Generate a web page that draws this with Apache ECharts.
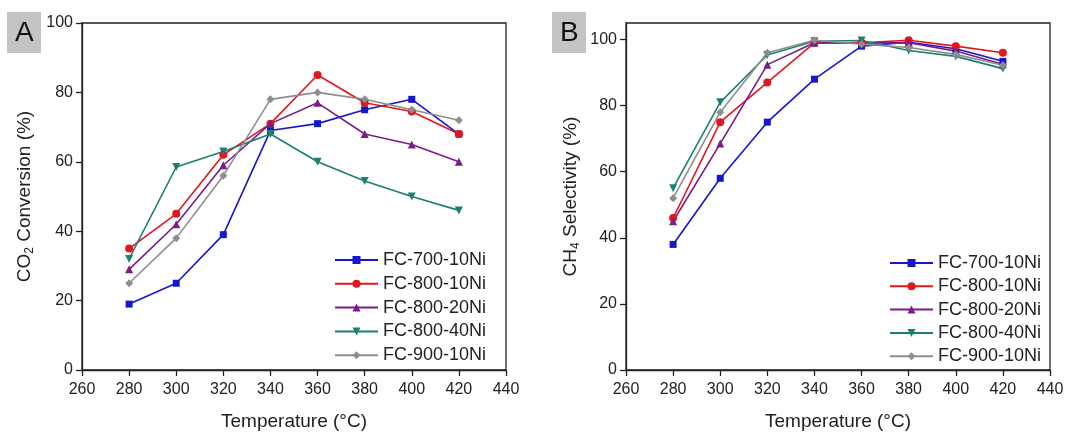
<!DOCTYPE html>
<html><head><meta charset="utf-8">
<script src="https://cdn.jsdelivr.net/npm/echarts@6/dist/echarts.min.js"></script>
<style>html,body{margin:0;padding:0;background:#fff}#c{width:1083px;height:432px}</style>
</head><body><div id="c"></div>
<script>
const temps = [280, 300, 320, 340, 360, 380, 400, 420];
const seriesNames = ['FC-700-10Ni', 'FC-800-10Ni', 'FC-800-20Ni', 'FC-800-40Ni', 'FC-900-10Ni'];
// Panel A: CO2 conversion (%)
const convA_700_10 = [19, 25, 39, 69, 71, 75, 78, 68];
const convA_800_10 = [35, 45, 62, 71, 85, 77, 74.5, 68];
const convA_800_20 = [29, 42, 59, 71, 77, 68, 65, 60];
const convA_800_40 = [32, 58.5, 63, 68, 60, 54.5, 50, 46];
const convA_900_10 = [25, 38, 56, 78, 80, 78, 75, 72];
// Panel B: CH4 selectivity (%)
const selB_700_10 = [38, 58, 75, 88, 98, 99.2, 97.2, 93.4];
const selB_800_10 = [46, 75, 87, 99, 99, 99.8, 98, 96];
const selB_800_20 = [45, 68.5, 92.4, 99, 99, 99, 96.5, 92.5];
const selB_800_40 = [55, 81, 95.3, 99.5, 99.7, 96.7, 94.9, 91.2];
const selB_900_10 = [52, 78, 96, 99.8, 98.6, 97.6, 95.5, 92.2];
const xTicks = [260, 280, 300, 320, 340, 360, 380, 400, 420, 440];
const yTicks = [0, 20, 40, 60, 80, 100];

const colors = ['#1616cc', '#e2161e', '#7a1c8a', '#1c7f72', '#8e8e8e'];
const symbols = ['rect', 'circle', 'triangle', 'triangle', 'diamond'];
const rotates = [0, 0, 0, 180, 0];
const sizes = [7, 8, 8, 8, 8];
const FONT = 'Liberation Sans, Arial, sans-serif';
const TXT = '#222';

const chart = echarts.init(document.getElementById('c'), null, {renderer: 'canvas'});

function xAxis(gi) {
  return {
    gridIndex: gi, type: 'value', min: xTicks[0], max: xTicks[xTicks.length - 1], interval: 20,
    name: 'Temperature (°C)', nameLocation: 'middle', nameGap: 42,
    nameTextStyle: {fontFamily: FONT, fontSize: 19, color: TXT},
    axisLine: {lineStyle: {color: '#222', width: 1.3}},
    axisTick: {show: true, length: 6, lineStyle: {color: '#222', width: 1.3}},
    axisLabel: {fontFamily: FONT, fontSize: 16, color: TXT, margin: 12},
    splitLine: {show: false}
  };
}
function yAxis(gi, max, nameRich, gap) {
  return {
    gridIndex: gi, type: 'value', min: 0, max: max, interval: 20,
    name: nameRich, nameLocation: 'middle', nameGap: gap, nameRotate: 90,
    nameTextStyle: {fontFamily: FONT, fontSize: 19, color: TXT,
      rich: {sub: {fontFamily: FONT, fontSize: 12, color: TXT, padding: [11, 0, 0, 0]}}},
    axisLine: {lineStyle: {color: '#222', width: 1.3}},
    axisTick: {show: true, length: 6, lineStyle: {color: '#222', width: 1.3}},
    axisLabel: {fontFamily: FONT, fontSize: 16, color: TXT, margin: 9, showMaxLabel: max === 100},
    splitLine: {show: false}
  };
}
function mk(gi, data) {
  return data.map((d, i) => ({
    name: seriesNames[i], type: 'line', xAxisIndex: gi, yAxisIndex: gi,
    data: temps.map((t, k) => [t, d[k]]),
    symbol: symbols[i], symbolRotate: rotates[i], symbolSize: sizes[i],
    lineStyle: {color: colors[i], width: 1.6},
    itemStyle: {color: colors[i]},
    color: colors[i], animation: false
  }));
}
function legend(left, top, gap) {
  return {
    data: seriesNames, left: left, top: top, orient: 'vertical',
    itemWidth: 43, itemHeight: 10, itemGap: gap,
    textStyle: {fontFamily: FONT, fontSize: 18, color: TXT, lineHeight: 18, padding: [0, 0, 0, 0]}
  };
}
const setA = [convA_700_10, convA_800_10, convA_800_20, convA_800_40, convA_900_10];
const setB = [selB_700_10, selB_800_10, selB_800_20, selB_800_40, selB_900_10];

const legA = legend(329, 246, 5.8); legA.id = 'la';
const legB = legend(884, 249, 5.3); legB.id = 'lb';

chart.setOption({
  backgroundColor: '#fff',
  animation: false,
  grid: [
    {left: 82, right: 577, top: 23, bottom: 62, show: true, borderColor: '#222', borderWidth: 1.3, backgroundColor: 'transparent', containLabel: false, outerBoundsMode: 'none'},
    {left: 626, right: 33, top: 23, bottom: 62, show: true, borderColor: '#222', borderWidth: 1.3, backgroundColor: 'transparent', containLabel: false, outerBoundsMode: 'none'}
  ],
  xAxis: [xAxis(0), xAxis(1)],
  yAxis: [yAxis(0, 100, 'CO{sub|2} Conversion (%)', 46), yAxis(1, 105, 'CH{sub|4} Selectivity (%)', 44)],
  legend: [legA, legB],
  series: mk(0, setA).concat(mk(1, setB)),
  graphic: [
    {type: 'rect', left: 7, top: 12, shape: {width: 34, height: 41}, style: {fill: '#c4c4c4'}},
    {type: 'text', left: 15, top: 19, style: {text: 'A', fontFamily: FONT, fontSize: 28, fill: '#111'}},
    {type: 'rect', left: 552, top: 12, shape: {width: 34, height: 41}, style: {fill: '#c4c4c4'}},
    {type: 'text', left: 560, top: 19, style: {text: 'B', fontFamily: FONT, fontSize: 28, fill: '#111'}}
  ]
});
</script></body></html>
